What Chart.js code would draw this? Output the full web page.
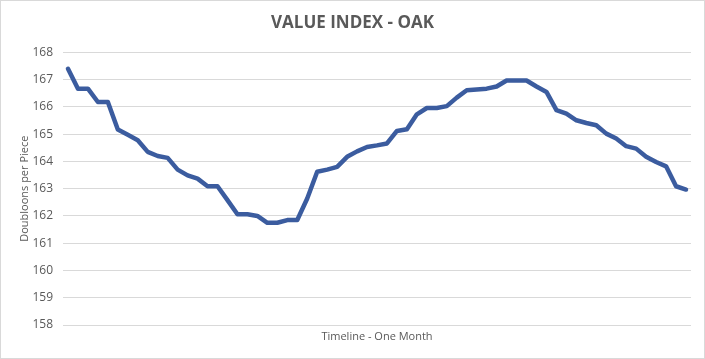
<!DOCTYPE html>
<html>
<head>
<meta charset="utf-8">
<script src="https://cdn.jsdelivr.net/npm/chart.js@4/dist/chart.umd.min.js"></script>
<style>
  html, body { margin: 0; padding: 0; background: #fff; }
  #wrap { width: 705px; height: 359px; position: relative; }
</style>
</head>
<body>
<div id="wrap"><canvas id="chart-oak" width="705" height="359"></canvas></div>
<script>
// values, one per sample over the month
const oakValues = [
    167.40, 166.67, 166.67, 166.18, 166.18, 165.17, 164.98, 164.78, 164.35, 164.20,
    164.13, 163.70, 163.49, 163.37, 163.09, 163.09, 162.58, 162.06, 162.06, 162.00,
    161.75, 161.75, 161.85, 161.85, 162.64, 163.62, 163.70, 163.80, 164.17, 164.37,
    164.53, 164.59, 164.66, 165.12, 165.18, 165.73, 165.96, 165.96, 166.03, 166.34,
    166.61, 166.64, 166.67, 166.75, 166.97, 166.97, 166.97, 166.75, 166.55, 165.88,
    165.75, 165.51, 165.41, 165.33, 165.02, 164.84, 164.56, 164.47, 164.17, 163.98,
    163.82, 163.09, 162.97
];
const timeline = oakValues.map((_, i) => String(i + 1));
const yMin = 158;
const yMax = 168;

const textColor = '#595959';
const gridColor = '#d9d9d9';
const fontFamily = '"Open Sans", "Liberation Sans", sans-serif';

const frame = {
    id: 'frame',
    beforeDraw(chart) {
        const ctx = chart.ctx;
        ctx.save();
        ctx.fillStyle = '#fff';
        ctx.fillRect(0, 0, chart.width, chart.height);
        ctx.strokeStyle = gridColor;
        ctx.lineWidth = 1;
        ctx.strokeRect(0.5, 0.5, chart.width - 1, chart.height - 1);
        ctx.restore();
    }
};

new Chart(document.getElementById('chart-oak').getContext('2d'), {
    type: 'line',
    data: {
        labels: timeline,
        datasets: [{
            label: 'Oak',
            data: oakValues,
            borderColor: '#3b5c9f',
            borderWidth: 4.5,
            borderJoinStyle: 'round',
            borderCapStyle: 'round',
            pointRadius: 0,
            tension: 0,
            fill: false
        }]
    },
    options: {
        responsive: false,
        animation: false,
        layout: { padding: { left: 14, right: 14, top: 0, bottom: 0 } },
        plugins: {
            legend: { display: false },
            tooltip: { enabled: false },
            title: {
                display: true,
                text: 'VALUE INDEX - OAK',
                color: textColor,
                font: { family: fontFamily, size: 17, weight: 'bold' },
                padding: { top: 13, bottom: 19 }
            }
        },
        scales: {
            x: {
                offset: true,
                grid: { display: false },
                border: { display: false },
                ticks: { display: false },
                title: {
                    display: true,
                    text: 'Timeline - One Month',
                    color: textColor,
                    font: { family: fontFamily, size: 11 },
                    padding: { top: 0, bottom: 16 }
                },
                afterFit(scale) { scale.height = 34; }
            },
            y: {
                min: yMin,
                max: yMax,
                ticks: {
                    stepSize: 1,
                    color: textColor,
                    padding: 10,
                    font: { family: fontFamily, size: 12 }
                },
                grid: { color: gridColor, lineWidth: 1, drawTicks: false },
                border: { display: false },
                title: {
                    display: true,
                    text: 'Doubloons per Piece',
                    color: textColor,
                    font: { family: fontFamily, size: 11 },
                    padding: { top: 4, bottom: 0 }
                },
                afterFit(scale) { scale.width = 49; }
            }
        }
    },
    plugins: [frame]
});
</script>
</body>
</html>
